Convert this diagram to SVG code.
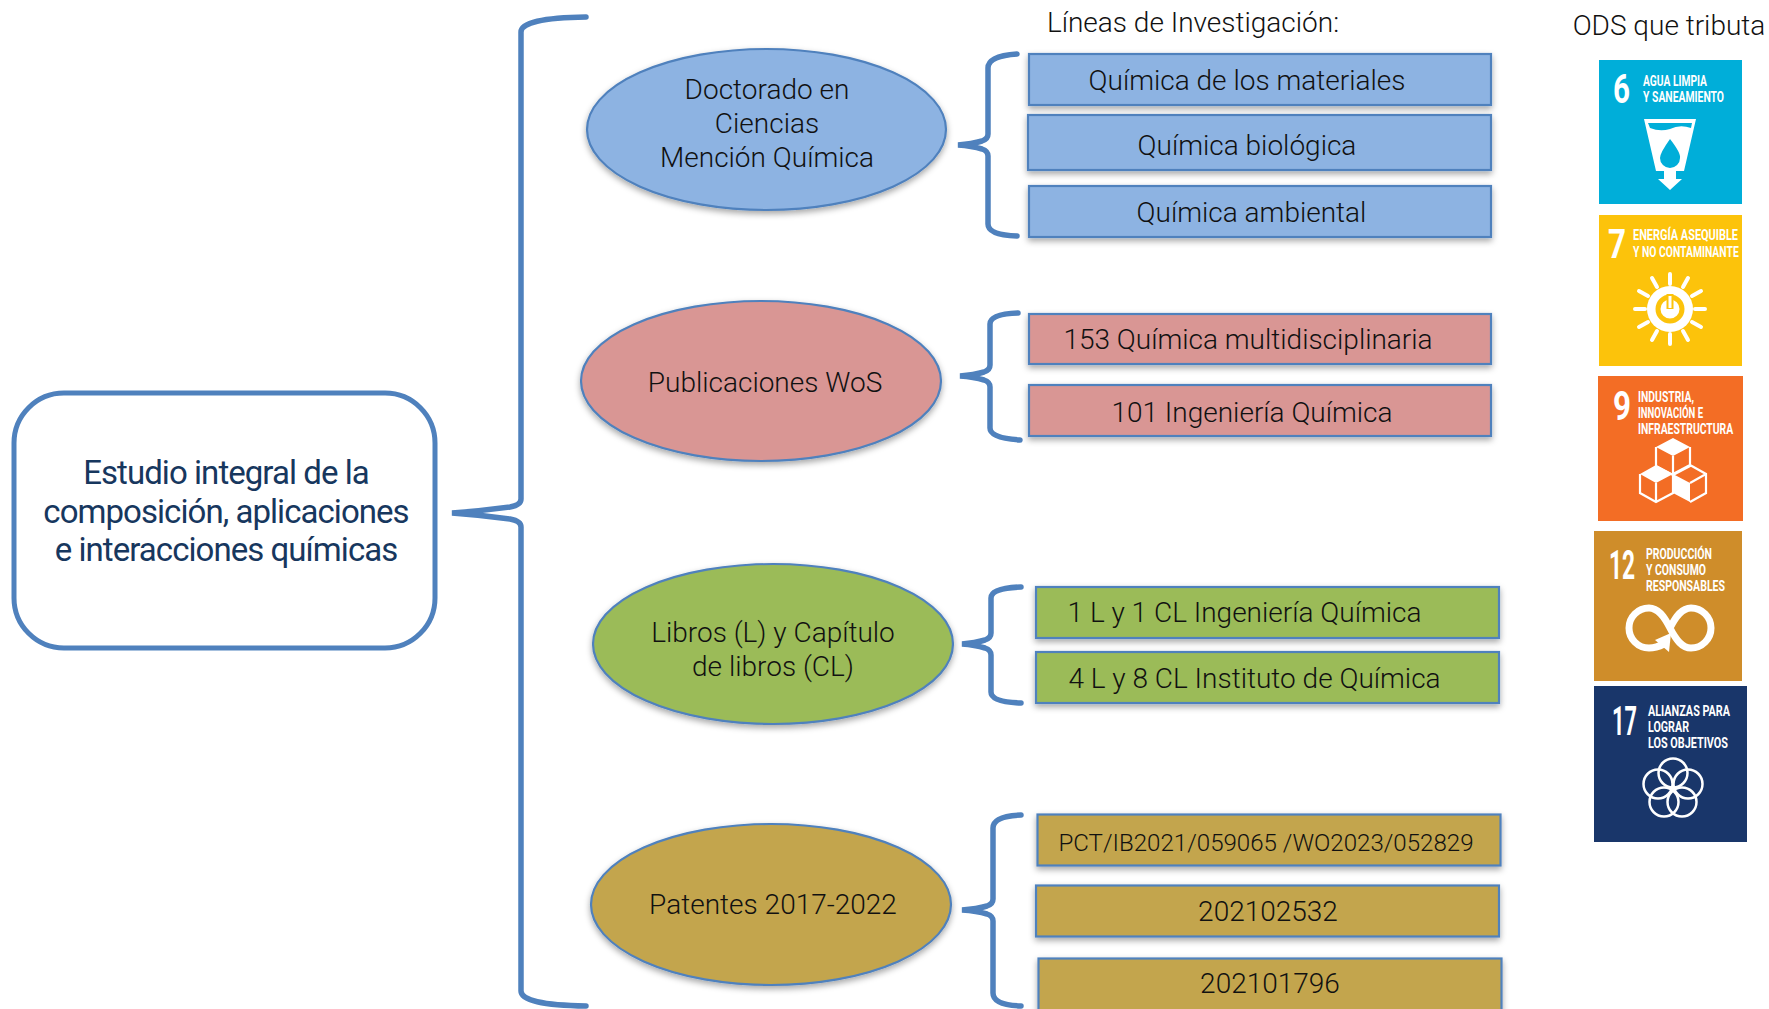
<svg xmlns="http://www.w3.org/2000/svg" width="1769" height="1009" viewBox="0 0 1769 1009">
<style>
text{font-family:Roboto,"Liberation Sans",sans-serif;font-weight:300;font-size:28px;fill:#111;text-anchor:middle}
.main{font-size:33px;fill:#17375e;font-weight:400;letter-spacing:-.95px}
.h{font-size:28px}
.brace{fill:none;stroke:#4f81bd;stroke-width:5.5;stroke-linecap:round}
.s{stroke:#4f81bd;stroke-width:2.2;filter:url(#sh)}
.blue{fill:#8db3e2}.red{fill:#d99694}.green{fill:#9bbb59}.gold{fill:#c3a54e}
.t{font-weight:700;fill:#fff;text-anchor:start;font-size:15px}
.n{font-weight:700;fill:#fff;text-anchor:start;font-size:40px}
.w{fill:none;stroke:#fff;stroke-width:4}
</style>
<defs><filter id="sh" x="-10%" y="-20%" width="120%" height="150%"><feDropShadow dx="0" dy="3" stdDeviation="3" flood-color="#000" flood-opacity=".35"/></filter></defs>
<g id="connectors">
<path class="brace" d="M586 17Q521 18 521 32V499Q521 505 510 507Q480 511 452 513Q480 515 510 519Q521 521 521 527V991Q521 1005 586 1006"/>
<path class="brace" d="M1017 54Q988 56 988 68V134Q988 139 982 141Q972 144 958 145Q972 146 982 149Q988 151 988 156V224Q988 235 1017 236"/>
<path class="brace" d="M1018 313Q990 314 990 324V365Q990 370 984 372Q974 375 960 376Q974 377 984 380Q990 382 990 387V428Q990 438 1020 440"/>
<path class="brace" d="M1021 587Q991 588 991 598V633Q991 638 985 640Q975 643 962 644Q975 645 985 648Q991 650 991 655V692Q991 702 1021 703"/>
<path class="brace" d="M1021 815Q993 816 993 828V899Q993 904 987 906Q977 909 962 910Q977 911 987 914Q993 916 993 921V993Q993 1005 1021 1006"/>
</g>
<g id="root"><rect x="14" y="393" width="421" height="255" rx="50" fill="#fff" stroke="#4f81bd" stroke-width="5"/>
<text class="main" x="226" y="484">Estudio integral de la</text><text class="main" x="226" y="523">composición, aplicaciones</text><text class="main" x="226" y="561">e interacciones químicas</text></g>
<g id="n-doctorado"><ellipse class="s blue" cx="766.500" cy="129.500" rx="179.500" ry="80.500"/><text x="767" y="99">Doctorado en</text><text x="767" y="133">Ciencias</text><text x="767" y="166.500">Mención Química</text></g>
<g id="n-publicaciones"><ellipse class="s red" cx="761" cy="381" rx="180" ry="80"/><text x="765" y="391.500">Publicaciones WoS</text></g>
<g id="n-libros"><ellipse class="s green" cx="773" cy="644" rx="180" ry="80"/><text x="773" y="641.500">Libros (L) y Capítulo</text><text x="773" y="675.500">de libros (CL)</text></g>
<g id="n-patentes"><ellipse class="s gold" cx="771" cy="904.500" rx="180" ry="80.500"/><text x="773" y="914">Patentes 2017-2022</text></g>
<g id="h1"><text class="h" x="1193" y="32">Líneas de Investigación:</text></g>
<g id="h2"><text class="h" x="1669" y="35">ODS que tributa</text></g>
<g id="r1"><rect class="s blue" x="1029" y="54" width="462" height="51"/><text x="1247" y="90">Química de los materiales</text></g>
<g id="r2"><rect class="s blue" x="1028" y="115" width="463" height="55"/><text x="1247" y="155">Química biológica</text></g>
<g id="r3"><rect class="s blue" x="1029" y="186" width="462" height="51"/><text x="1251.500" y="222">Química ambiental</text></g>
<g id="r4"><rect class="s red" x="1029" y="314" width="462" height="50"/><text x="1248" y="348.500">153 Química multidisciplinaria</text></g>
<g id="r5"><rect class="s red" x="1029" y="385" width="462" height="51"/><text x="1252" y="421.500">101 Ingeniería Química</text></g>
<g id="r6"><rect class="s green" x="1036" y="587" width="463" height="51"/><text x="1244.500" y="622">1 L y 1 CL Ingeniería Química</text></g>
<g id="r7"><rect class="s green" x="1036" y="652" width="463" height="51"/><text x="1254.500" y="688">4 L y 8 CL Instituto de Química</text></g>
<g id="r8"><rect class="s gold" x="1037.500" y="814.500" width="463" height="51"/><text x="1266" y="851" style="font-size:24.100px">PCT/IB2021/059065 /WO2023/052829</text></g>
<g id="r9"><rect class="s gold" x="1036" y="885.500" width="463" height="51"/><text x="1268" y="921">202102532</text></g>
<g id="r10"><rect class="s gold" x="1038.500" y="958.500" width="463" height="60"/><text x="1270" y="993">202101796</text></g>
<g id="ods6"><rect x="1599" y="60" width="143" height="144" fill="#00aed9"/>
<text class="n" x="1613" y="103" textLength="17" lengthAdjust="spacingAndGlyphs">6</text>
<text class="t" x="1643" y="86" textLength="64" lengthAdjust="spacingAndGlyphs">AGUA LIMPIA</text><text class="t" x="1643" y="102" textLength="81" lengthAdjust="spacingAndGlyphs">Y SANEAMIENTO</text>
<path d="M1644 119H1696L1684 171H1676V179H1682L1670 190L1658 179H1664V171H1656Z" fill="#fff"/><path d="M1648 123H1692L1691 128Q1680 124 1670 129Q1660 132 1650 128Z" fill="#00aed9"/><path d="M1670 139Q1681 153 1680 158A10 10 0 0 1 1660 158Q1660 153 1670 139Z" fill="#00aed9"/></g>
<g id="ods7"><rect x="1599" y="215" width="143" height="151" fill="#fcc30b"/>
<text class="n" x="1608" y="258" textLength="18" lengthAdjust="spacingAndGlyphs">7</text>
<text class="t" transform="translate(1633 240) scale(.7 1)" textLength="150" lengthAdjust="spacingAndGlyphs">ENERGÍA ASEQUIBLE</text><text class="t" transform="translate(1633 257) scale(.7 1)" textLength="151" lengthAdjust="spacingAndGlyphs">Y NO CONTAMINANTE</text>
<circle cx="1670" cy="309" r="23" fill="#fff"/><circle cx="1670" cy="309" r="12" fill="none" stroke="#fcc30b" stroke-width="5"/><path d="M1670 294V309" stroke="#fcc30b" stroke-width="7"/><path d="M1670 296V308" stroke="#fff" stroke-width="3"/>
<path class="w" stroke-linecap="round" d="M1670 274V284M1670 334V344M1635 309H1645M1695 309H1705M1652 278L1657 287M1683 331L1688 340M1688 278L1683 287M1657 331L1652 340M1639 291L1648 296M1692 322L1701 327M1701 291L1692 296M1648 322L1639 327"/></g>
<g id="ods9"><rect x="1598" y="376" width="145" height="145" fill="#f36d25"/>
<text class="n" x="1613" y="420" textLength="18" lengthAdjust="spacingAndGlyphs">9</text>
<text class="t" x="1638" y="402" textLength="56" lengthAdjust="spacingAndGlyphs">INDUSTRIA,</text><text class="t" x="1638" y="418" textLength="65" lengthAdjust="spacingAndGlyphs">INNOVACIÓN E</text><text class="t" transform="translate(1638 434) scale(.7 1)" textLength="136" lengthAdjust="spacingAndGlyphs">INFRAESTRUCTURA</text>
<path d="M1673 438L1690 447L1673 456L1656 447ZM1656 465L1673 474L1656 483L1640 474ZM1673 474L1690 483V502L1673 493Z" fill="#fff"/>
<path d="M1656 447V466L1673 475L1690 466V447M1673 456V475M1640 474V493L1656 502L1673 493V474M1656 483V502M1690 465L1706 474V493L1690 502M1690 483L1706 474M1673 474L1690 465" fill="none" stroke="#fff" stroke-width="2.200"/></g>
<g id="ods12"><rect x="1594" y="531" width="148" height="150" fill="#cf8d2a"/>
<text class="n" transform="translate(1609 579) scale(.58 1)" textLength="45" lengthAdjust="spacingAndGlyphs">12</text>
<text class="t" x="1646" y="559" textLength="66" lengthAdjust="spacingAndGlyphs">PRODUCCIÓN</text><text class="t" x="1646" y="575" textLength="60" lengthAdjust="spacingAndGlyphs">Y CONSUMO</text><text class="t" x="1646" y="591" textLength="79" lengthAdjust="spacingAndGlyphs">RESPONSABLES</text>
<path d="M1664 644Q1656 648 1649 648A20 20 0 0 1 1649 608C1658 608 1664 616 1670 628C1676 640 1682 648 1691 648A20 20 0 0 0 1691 608C1682 608 1676 616 1670 628" fill="none" stroke="#fff" stroke-width="7"/><path d="M1655 640L1671 633L1669 652Z" fill="#fff"/></g>
<g id="ods17"><rect x="1594" y="686" width="153" height="156" fill="#19366a"/>
<text class="n" transform="translate(1612 735) scale(.58 1)" textLength="43" lengthAdjust="spacingAndGlyphs">17</text>
<text class="t" x="1648" y="716" textLength="82" lengthAdjust="spacingAndGlyphs">ALIANZAS PARA</text><text class="t" x="1648" y="732" textLength="41" lengthAdjust="spacingAndGlyphs">LOGRAR</text><text class="t" x="1648" y="748" textLength="80" lengthAdjust="spacingAndGlyphs">LOS OBJETIVOS</text>
<g fill="none" stroke="#fff" stroke-width="2.500"><circle cx="1673" cy="773" r="14.500"/><circle cx="1658" cy="784" r="14.500"/><circle cx="1688" cy="784" r="14.500"/><circle cx="1664" cy="802" r="14.500"/><circle cx="1682" cy="802" r="14.500"/></g></g>
</svg>
